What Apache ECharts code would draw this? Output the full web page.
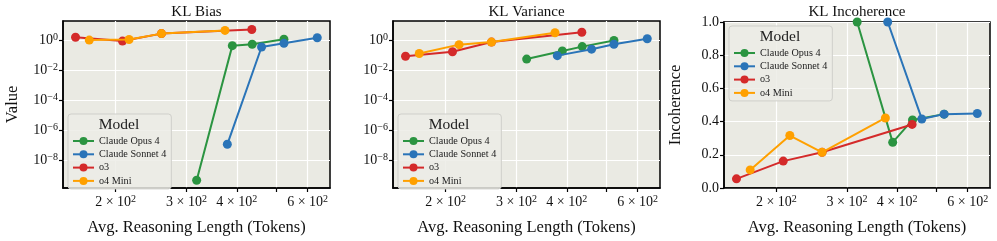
<!DOCTYPE html>
<html><head><meta charset="utf-8">
<script src="https://cdn.jsdelivr.net/npm/echarts@6/dist/echarts.min.js"></script>
<style>html,body{margin:0;padding:0;background:#fff}#c{width:997px;height:241px}</style>
</head><body><div id="c"></div>
<script>
const models = ['Claude Opus 4', 'Claude Sonnet 4', 'o3', 'o4 Mini'];
const colors = ['#2b9441', '#2a74b8', '#d42a2a', '#ffa000'];
const panelTitles = ['KL Bias', 'KL Variance', 'KL Incoherence'];
const yNames = ['Value', '', 'Incoherence'];
const xName = 'Avg. Reasoning Length (Tokens)';

// avg reasoning length (tokens)
const lenOpus   = [318, 390, 437, 524];
const lenSonnet = [379, 461, 524, 634];
const lenO3     = [159, 208, 260, 436];
const lenO4     = [172, 216, 260, 374];

// KL bias
const biasOpus   = [4.9e-10, 0.43, 0.53, 1.16];
const biasSonnet = [1.2e-7, 0.35, 0.61, 1.43];
const biasO3     = [1.56, 0.86, 2.7, 5.1];
const biasO4     = [1.0, 1.1, 2.7, 4.4];

// KL variance
const varOpus   = [0.055, 0.19, 0.37, 0.95];
const varSonnet = [0.093, 0.25, 0.53, 1.23];
const varO3     = [0.085, 0.17, 0.74, 3.3];
const varO4     = [0.13, 0.5, 0.74, 3.1];

// KL incoherence
const incOpus   = [1.0, 0.275, 0.41, 0.445];
const incSonnet = [1.0, 0.416, 0.445, 0.449];
const incO3     = [0.055, 0.162, 0.215, 0.383];
const incO4     = [0.109, 0.316, 0.215, 0.422];

// ticks
const xTickValues = [200, 300, 400, 500, 600];
const xLabelValues = [200, 300, 400, 600];
const xRange = [148, 682];
const logYExps = [-8, -6, -4, -2, 0];
const logYRange = [1.5e-10, 18.6];
const incTicks = [0, 0.2, 0.4, 0.6, 0.8, 1.0];

const lens = [lenOpus, lenSonnet, lenO3, lenO4];
const panelValues = [
  [biasOpus, biasSonnet, biasO3, biasO4],
  [varOpus, varSonnet, varO3, varO4],
  [incOpus, incSonnet, incO3, incO4]
];
const panelLog = [true, true, false];

const FONT = 'Liberation Serif';
const grids = [
  {left: 63, right: 667, top: 21, bottom: 48},
  {left: 393, right: 337, top: 21, bottom: 48},
  {left: 724, right: 7, top: 22, bottom: 48}
];
const legendPos = [{left: 68, top: 114}, {left: 398, top: 114}, {left: 729, top: 26}];

const L = v => Math.log10(v);
const richBase = {
  b: {fontFamily: FONT, fontSize: 14, color: '#111', lineHeight: 16},
  s: {fontFamily: FONT, fontSize: 10, color: '#111', lineHeight: 10, verticalAlign: 'top'}
};

const option = {
  animation: false,
  backgroundColor: '#ffffff',
  grid: grids.map(g => Object.assign({}, g, {show: true, backgroundColor: '#eaeae3', borderColor: '#000', borderWidth: 1.5, containLabel: false})),
  xAxis: grids.map((g, i) => ({
    type: 'value', gridIndex: i,
    min: L(xRange[0]), max: L(xRange[1]),
    name: xName, nameLocation: 'middle', nameGap: 31,
    nameTextStyle: {fontFamily: FONT, fontSize: 16.5, color: '#111'},
    axisLine: {show: true, onZero: false, lineStyle: {color: '#000', width: 1.5}},
    axisTick: {show: true, length: 4, inside: false, lineStyle: {color: '#000', width: 1.2}, customValues: xTickValues.map(L)},
    axisLabel: {
      customValues: xLabelValues.map(L), margin: 6,
      formatter: v => '{b|' + Math.round(Math.pow(10, v) / 100) + ' × 10}{s|2}',
      rich: richBase
    },
    splitLine: {show: true, lineStyle: {color: '#ffffff', width: 1.2}}
  })),
  yAxis: grids.map((g, i) => panelLog[i] ? ({
    type: 'value', gridIndex: i,
    min: L(logYRange[0]), max: L(logYRange[1]),
    name: yNames[i], nameLocation: 'middle', nameGap: 42,
    nameTextStyle: {fontFamily: FONT, fontSize: 16.5, color: '#111'},
    axisLine: {show: true, onZero: false, lineStyle: {color: '#000', width: 1.5}},
    axisTick: {show: true, length: 4, lineStyle: {color: '#000', width: 1.2}, customValues: logYExps},
    axisLabel: {
      customValues: logYExps, margin: 5,
      formatter: v => { const e = Math.round(v); return '{b|10}{s|' + (e < 0 ? '−' + (-e) : e) + '}'; },
      rich: richBase
    },
    splitLine: {show: true, lineStyle: {color: '#ffffff', width: 1.2}}
  }) : ({
    type: 'value', gridIndex: i, min: 0, max: 1, interval: 0.2,
    name: yNames[i], nameLocation: 'middle', nameGap: 40,
    nameTextStyle: {fontFamily: FONT, fontSize: 16.5, color: '#111'},
    axisLine: {show: true, onZero: false, lineStyle: {color: '#000', width: 1.5}},
    axisTick: {show: true, length: 4, lineStyle: {color: '#000', width: 1.2}, customValues: incTicks},
    axisLabel: {customValues: incTicks, margin: 5, fontFamily: FONT, fontSize: 14, color: '#111', formatter: v => v.toFixed(1)},
    splitLine: {show: true, lineStyle: {color: '#ffffff', width: 1.2}}
  })),
  legend: legendPos.map(p => ({
    data: models, orient: 'vertical', left: p.left, top: p.top,
    backgroundColor: 'rgba(236,236,230,0.85)', borderColor: '#cfcfca', borderWidth: 1, borderRadius: 3,
    padding: [22, 5, 3, 4], itemGap: 3.3, itemWidth: 21, itemHeight: 10,
    textStyle: {fontFamily: FONT, fontSize: 10.2, color: '#222', lineHeight: 10},
    selectedMode: false, z: 6
  })),
  graphic: [].concat(
    grids.map((g, i) => ({
      type: 'text', z: 10,
      x: (g.left + (997 - g.right)) / 2, y: 12,
      style: {text: panelTitles[i], fontFamily: FONT, fontSize: 15, fill: '#111', align: 'center', verticalAlign: 'middle'}
    })),
    legendPos.map(p => ({
      type: 'text', z: 100, zlevel: 1,
      x: p.left + 51, y: p.top + 11,
      style: {text: 'Model', fontFamily: FONT, fontSize: 15.5, fill: '#222', align: 'center', verticalAlign: 'middle'}
    }))
  ),
  series: []
};

panelValues.forEach((vals, p) => {
  vals.forEach((arr, m) => {
    option.series.push({
      type: 'line', name: models[m], xAxisIndex: p, yAxisIndex: p,
      data: arr.map((v, k) => [L(lens[m][k]), panelLog[p] ? L(v) : v]),
      symbol: 'circle', symbolSize: 9, clip: false,
      color: colors[m],
      itemStyle: {color: colors[m]},
      lineStyle: {color: colors[m], width: 2},
      z: 2 + m
    });
  });
});

const chart = echarts.init(document.getElementById('c'), null, {renderer: 'canvas'});
chart.setOption(option);
</script>
</body></html>
